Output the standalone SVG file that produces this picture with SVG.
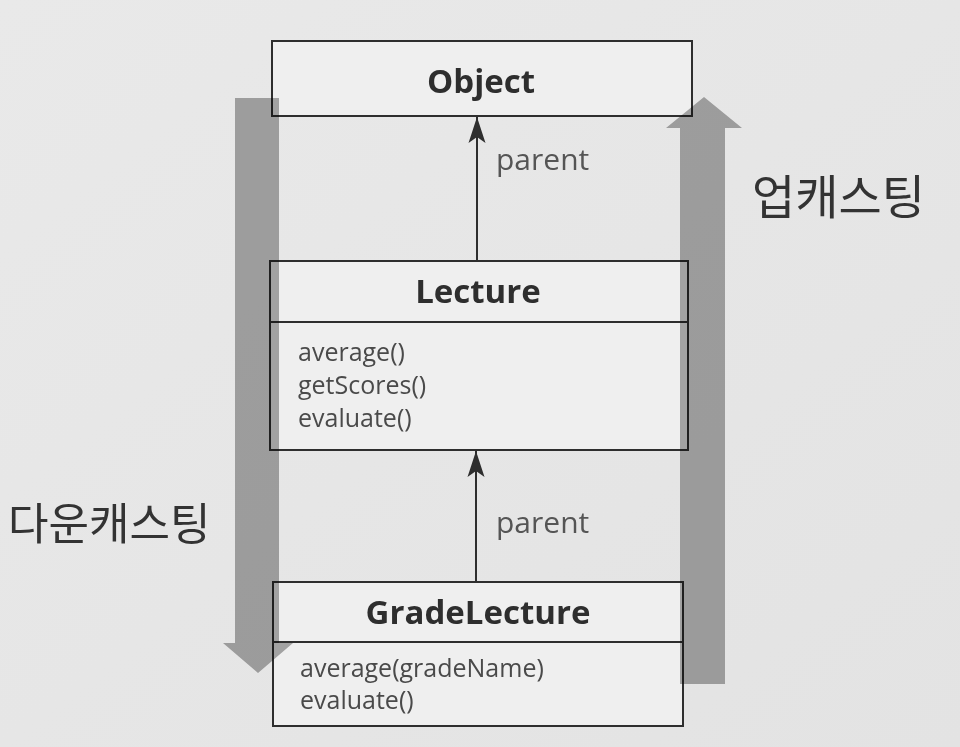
<svg xmlns="http://www.w3.org/2000/svg" width="960" height="747" viewBox="0 0 960 747">
  <defs>
    <linearGradient id="bg" x1="0" y1="0" x2="1" y2="1">
      <stop offset="0" stop-color="#e9e9e9"/>
      <stop offset="1" stop-color="#e3e3e3"/>
    </linearGradient>
    <marker id="arr" markerUnits="userSpaceOnUse" markerWidth="30" markerHeight="20" viewBox="-26 -10 28 20" refX="0" refY="0" orient="auto">
      <path d="M0,0 L-26,-8.5 L-20,0 L-26,8.5 Z" fill="#2e2e2e"/>
    </marker>
    <style>
      .box { fill: #efefef; stroke: #2e2e2e; stroke-width: 2; }
      .div { stroke: #2e2e2e; stroke-width: 2; }
      .title { font-family: "Open Sans", "Noto Sans", sans-serif; font-weight: 700; font-size: 33px; fill: #2e2e2e; text-anchor: middle; }
      .meth { font-family: "Open Sans", "Noto Sans", sans-serif; font-size: 25px; fill: #4a4a4a; }
      .lbl { font-family: "Open Sans", "Noto Sans", sans-serif; font-size: 30px; fill: #555555; }
      .kr { font-family: "Noto Sans CJK KR", "Noto Sans", sans-serif; fill: #333333; }
      .conn { stroke: #2e2e2e; stroke-width: 2; fill: none; }
      .cast { fill: #adadad; mix-blend-mode: multiply; }
    </style>
  </defs>
  <rect width="960" height="747" fill="url(#bg)"/>

  <g id="node-object">
    <rect class="box" x="272" y="41" width="420" height="75"/>
    <text class="title" x="481" y="93" font-size="34">Object</text>
  </g>

  <g id="node-lecture">
    <rect class="box" x="270" y="261" width="418" height="189"/>
    <line class="div" x1="270" y1="322" x2="688" y2="322"/>
    <text class="title" x="478" y="303">Lecture</text>
    <text class="meth" x="298" y="361">average()</text>
    <text class="meth" x="298" y="394">getScores()</text>
    <text class="meth" x="298" y="427">evaluate()</text>
  </g>

  <g id="node-gradelecture">
    <rect class="box" x="273" y="582" width="410" height="144"/>
    <line class="div" x1="273" y1="642" x2="683" y2="642"/>
    <text class="title" x="478" y="624">GradeLecture</text>
    <text class="meth" x="300" y="677">average(gradeName)</text>
    <text class="meth" x="300" y="709">evaluate()</text>
  </g>

  <g id="connectors">
    <line class="conn" x1="477" y1="261" x2="477" y2="117" marker-end="url(#arr)"/>
    <text class="lbl" x="496" y="170">parent</text>
    <line class="conn" x1="476" y1="582" x2="476" y2="451" marker-end="url(#arr)"/>
    <text class="lbl" x="496" y="533">parent</text>
  </g>

  <g id="casts">
    <g id="downcast">
      <polygon class="cast" points="235,98 279,98 279,643 293,643 258,673 223,643 235,643"/>
      <text class="kr" x="8" y="540" font-size="44">다운캐스팅</text>
    </g>
    <g id="upcast">
      <polygon class="cast" points="680,684 725,684 725,128 742,128 704,97 666,128 680,128"/>
      <text class="kr" x="752" y="214" font-size="47">업캐스팅</text>
    </g>
  </g>
</svg>
